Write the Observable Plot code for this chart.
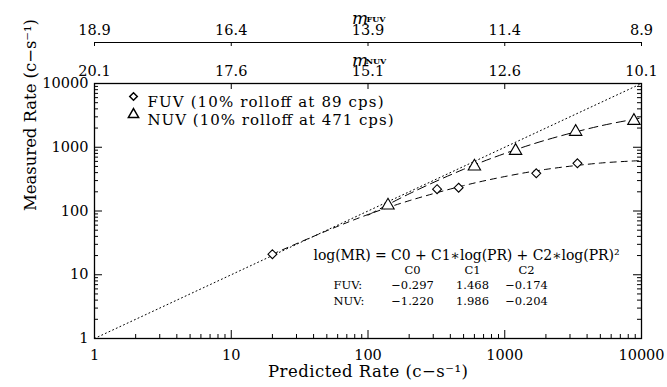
<!DOCTYPE html>
<html><head><meta charset="utf-8">
<script src="https://cdn.jsdelivr.net/npm/d3@7"></script>
<script src="https://cdn.jsdelivr.net/npm/@observablehq/plot@0.6"></script>
<style>body{margin:0;background:#fff} svg{display:block}</style>
</head><body><div id="chart"></div>
<script>
// ---- data ----
const decades = [1, 10, 100, 1000, 10000];
const xTickLabels = ["1", "10", "100", "1000", "10000"];
const yTickLabels = ["1", "10", "100", "1000", "10000"];
const fuvMagLabels = ["18.9", "16.4", "13.9", "11.4", "8.9"];
const nuvMagLabels = ["20.1", "17.6", "15.1", "12.6", "10.1"];

const fuvPredicted = [20, 320, 460, 1700, 3400];
const fuvMeasured  = [21, 220, 232, 390, 560];
const nuvPredicted = [140, 600, 1200, 3300, 8800];
const nuvMeasured  = [122, 500, 880, 1750, 2600];

// dashed fit curves
const fuvCurvePR = [20, 50, 100, 200, 500, 1000, 2000, 5000, 10000];
const fuvCurveMR = [21, 49, 88, 145, 250, 347, 450, 565, 618];
const nuvCurvePR = [100, 200, 500, 1000, 2000, 5000, 10000];
const nuvCurveMR = [86, 186, 451, 798, 1297, 2163, 2884];
// dotted one-to-one line
const unityPR = [1, 10000];
const unityMR = [1, 10000];

const legendLabels = ["FUV (10% rolloff at 89 cps)", "NUV (10% rolloff at 471 cps)"];
const equationText = "log(MR) = C0 + C1\u2217log(PR) + C2\u2217log(PR)\u00b2";
const coefHeaders = ["C0", "C1", "C2"];
const coefRows = ["FUV:", "NUV:"];
const coefC0 = ["\u22120.297", "\u22121.220"];
const coefC1 = ["1.468", "1.986"];
const coefC2 = ["\u22120.174", "\u22120.204"];
const xTitle = "Predicted Rate (c\u2212s\u207b\u00b9)";
const yTitle = "Measured Rate (c\u2212s\u207b\u00b9)";

// ---- layout ----
const W = 667, H = 387, mL = 94, mR = 26, mT = 83, mB = 49;
const innerW = W - mL - mR, innerH = H - mT - mB;
const font = "DejaVu Serif";
const minor = decades.slice(0, -1).flatMap(d => [2, 3, 4, 5, 6, 7, 8, 9].map(k => k * d));
const lab = arr => d => arr[decades.indexOf(d)];
const ink = "black";

const colText = (lines, dx, anchor) => Plot.text([lines.join("\n")], {
  frameAnchor: "top-left", dx, dy: 179, text: d => d, textAnchor: anchor,
  fontSize: 11.5, lineHeight: 1.35, lineAnchor: "top", fill: ink
});

const plot = Plot.plot({
  width: W, height: H,
  marginLeft: mL, marginRight: mR, marginTop: mT, marginBottom: mB,
  style: {fontFamily: font, fontSize: "14px", color: ink, background: "white", overflow: "visible"},
  x: {type: "log", domain: [1, 10000]},
  y: {type: "log", domain: [1, 10000]},
  marks: [
    // one-to-one dotted line and fits
    Plot.line(unityPR, {x: d => d, y: (d, i) => unityMR[i], stroke: ink, strokeWidth: 1, strokeDasharray: "1,3"}),
    Plot.line(fuvCurvePR, {x: d => d, y: (d, i) => fuvCurveMR[i], curve: "catmull-rom", stroke: ink, strokeWidth: 1, strokeDasharray: "6,5"}),
    Plot.line(nuvCurvePR, {x: d => d, y: (d, i) => nuvCurveMR[i], curve: "catmull-rom", stroke: ink, strokeWidth: 1, strokeDasharray: "9,5"}),
    Plot.dot(fuvPredicted, {x: d => d, y: (d, i) => fuvMeasured[i], symbol: "diamond2", r: 4, stroke: ink, fill: "white", strokeWidth: 1.1}),
    Plot.dot(nuvPredicted, {x: d => d, y: (d, i) => nuvMeasured[i], symbol: "triangle", r: 4.6, stroke: ink, fill: "white", strokeWidth: 1.1}),

    // frame and inward ticks
    Plot.frame({stroke: ink, strokeWidth: 1.3}),
    Plot.tickX(decades, {x: d => d, insetTop: innerH - 8, stroke: ink}),
    Plot.tickX(minor, {x: d => d, insetTop: innerH - 4, stroke: ink}),
    Plot.tickX(decades, {x: d => d, insetBottom: innerH - 6, stroke: ink}),
    Plot.tickY(decades, {y: d => d, insetRight: innerW - 8, stroke: ink}),
    Plot.tickY(minor, {y: d => d, insetRight: innerW - 4, stroke: ink}),
    Plot.tickY(decades, {y: d => d, insetLeft: innerW - 8, stroke: ink}),
    Plot.tickY(minor, {y: d => d, insetLeft: innerW - 4, stroke: ink}),

    // axes labels
    Plot.axisX(decades, {anchor: "bottom", tickSize: 0, tickPadding: 11, tickFormat: lab(xTickLabels), label: null, fontSize: 14.5}),
    Plot.axisY(decades, {anchor: "left", tickSize: 0, tickPadding: 6, tickFormat: lab(yTickLabels), label: null, fontSize: 14.5}),
    Plot.axisX(decades, {anchor: "top", tickSize: 0, tickPadding: 8, tickFormat: lab(nuvMagLabels), label: null, fontSize: 14.5}),
    Plot.axisX(decades, {anchor: "top", dy: -41, tickSize: 0, tickPadding: 8, tickFormat: lab(fuvMagLabels), label: null, fontSize: 14.5}),
    Plot.ruleY([10000], {dy: -41, stroke: ink, strokeWidth: 1}),
    Plot.tickX(decades, {x: d => d, dy: -41, insetBottom: innerH - 4, stroke: ink}),

    // magnitude axis titles
    Plot.text(["m"], {frameAnchor: "top", dx: -8, dy: -30, text: d => d, fontStyle: "italic", fontSize: 17, fill: ink}),
    Plot.text(["NUV"], {frameAnchor: "top", dx: 8, dy: -25, text: d => d, fontSize: 8, fontWeight: "bold", fill: ink}),
    Plot.text(["m"], {frameAnchor: "top", dx: -8, dy: -72, text: d => d, fontStyle: "italic", fontSize: 17, fill: ink}),
    Plot.text(["FUV"], {frameAnchor: "top", dx: 8, dy: -67, text: d => d, fontSize: 8, fontWeight: "bold", fill: ink}),

    // axis titles
    Plot.text([xTitle], {frameAnchor: "bottom", dy: 38, text: d => d, fontSize: 16.5, fill: ink}),
    Plot.text([yTitle], {frameAnchor: "left", dx: -64, text: d => d, rotate: -90, fontSize: 16.5, fill: ink}),

    // legend
    Plot.dot([0], {frameAnchor: "top-left", dx: 39, dy: 13, symbol: "diamond2", r: 3.4, stroke: ink, fill: "none"}),
    Plot.dot([0], {frameAnchor: "top-left", dx: 39, dy: 31, symbol: "triangle", r: 3.8, stroke: ink, fill: "none"}),
    Plot.text([legendLabels[0]], {frameAnchor: "top-left", dx: 53, dy: 13, text: d => d, textAnchor: "start", fontSize: 15, fill: ink}),
    Plot.text([legendLabels[1]], {frameAnchor: "top-left", dx: 53, dy: 31, text: d => d, textAnchor: "start", fontSize: 15, fill: ink}),

    // equation and coefficient table
    Plot.text([equationText], {frameAnchor: "top-left", dx: 219, dy: 167, text: d => d, textAnchor: "start", fontSize: 14, fill: ink}),
    colText(["", ...coefRows], 239, "start"),
    colText([coefHeaders[0], ...coefC0], 318, "middle"),
    colText([coefHeaders[1], ...coefC1], 378, "middle"),
    colText([coefHeaders[2], ...coefC2], 432, "middle")
  ]
});
// the reference's serif is wider than DejaVu Serif: stretch a few texts to its widths
const stretch = new Map([[legendLabels[0], 236], [legendLabels[1], 246], [xTitle, 200], [yTitle, 192], [equationText, 306]]);
d3.select(plot).selectAll("text").each(function () {
  const L = stretch.get(this.textContent);
  if (L) { this.setAttribute("textLength", L); this.setAttribute("lengthAdjust", "spacing"); }
});
document.getElementById("chart").appendChild(plot);
</script>
</body></html>
